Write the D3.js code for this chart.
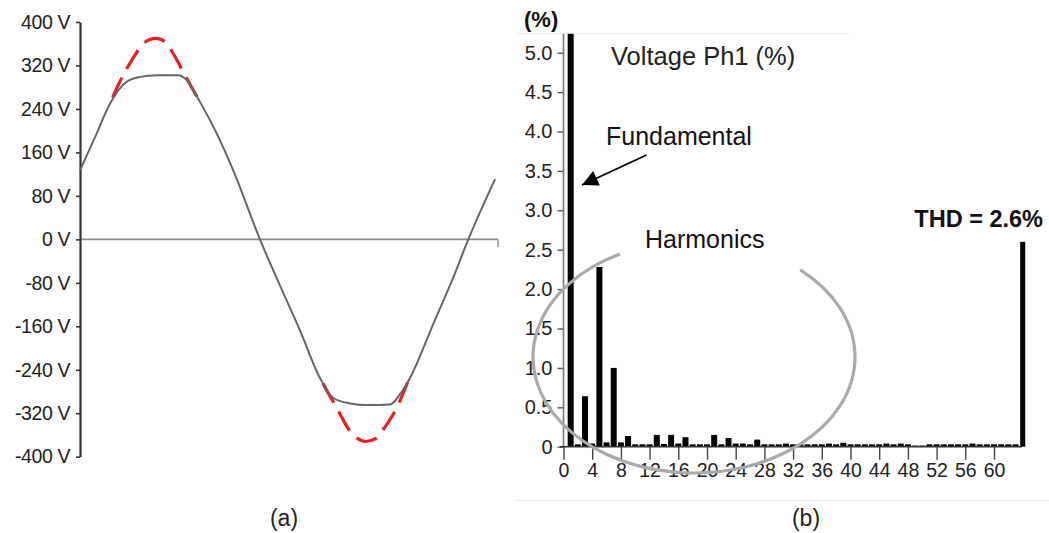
<!DOCTYPE html>
<html>
<head>
<meta charset="utf-8">
<script src="https://cdn.jsdelivr.net/npm/d3@7"></script>
<style>
  html, body { margin: 0; padding: 0; background: #fff; }
  svg { display: block; font-family: "Liberation Sans", Arial, sans-serif; }
</style>
</head>
<body>
<svg id="chart" width="1049" height="533"></svg>
<script>
// ---------------- DATA ----------------
// (a) Voltage waveform: time (ms) and voltage (V)
const waveTime = [0, 0.72, 1.44, 2.23, 2.87, 3.67, 4.70, 5.11, 5.74, 6.54, 7.33, 8.61, 9.73, 10.53, 11.48, 12.12, 12.92, 13.72, 14.83, 15.31, 15.79, 16.90, 17.86, 18.58, 19.86];
const waveVolt = [127, 188, 250, 290, 299, 302, 302, 293, 253, 195, 127, 0, -99, -168, -255, -292, -302, -305, -304, -285, -255, -156, -70, 0, 111];
// ideal (unclipped) peaks, red dashed
const peakPosTime = [1.44, 1.83, 2.15, 2.63, 3.03, 3.64, 4.07, 4.46, 4.94, 5.34, 5.74];
const peakPosVolt = [250, 284, 308, 339, 361, 370, 364, 342, 308, 280, 253];
const peakNegTime = [11.48, 11.88, 12.28, 12.92, 13.67, 14.19, 14.51, 15.15, 15.79];
const peakNegVolt = [-255, -283, -310, -353, -372, -366, -350, -310, -252];
const voltTicks = [400, 320, 240, 160, 80, 0, -80, -160, -240, -320, -400];

// (b) Harmonic spectrum, % of fundamental, index = harmonic order 0..63
const harmonicValues = [0, 100, 0.03, 0.64, 0.04, 2.28, 0.055, 1.0, 0.055, 0.135,
  0.03, 0.03, 0.03, 0.15, 0.035, 0.15, 0.04, 0.12, 0.03, 0.03,
  0.03, 0.15, 0.03, 0.11, 0.04, 0.04, 0.03, 0.09, 0.03, 0.03,
  0.03, 0.04, 0.03, 0.03, 0.03, 0.03, 0.03, 0.04, 0.03, 0.05,
  0.03, 0.03, 0.03, 0.03, 0.03, 0.04, 0.03, 0.04, 0.03, 0.015,
  0.015, 0.03, 0.03, 0.03, 0.03, 0.03, 0.03, 0.04, 0.03, 0.03,
  0.03, 0.03, 0.03, 0.03];
const thdPosition = 64;
const thdValue = 2.6;
const harmTicks = [0, 4, 8, 12, 16, 20, 24, 28, 32, 36, 40, 44, 48, 52, 56, 60];
const pctTicks = [0, 0.5, 1.0, 1.5, 2.0, 2.5, 3.0, 3.5, 4.0, 4.5, 5.0];

// ---------------- DRAW ----------------
const svg = d3.select("#chart");
const FONT = '"Liberation Sans", Arial, sans-serif';

// faint frame lines of panel (b)
svg.append("line").attr("x1", 515).attr("x2", 849).attr("y1", 33.5).attr("y2", 33.5)
  .attr("stroke", "#f1f1f1").attr("stroke-width", 1.5);
svg.append("line").attr("x1", 515).attr("x2", 1049).attr("y1", 500.5).attr("y2", 500.5)
  .attr("stroke", "#eeeeee").attr("stroke-width", 1.5);

// ===== Panel (a) =====
const xA = d3.scaleLinear().domain([0, 20]).range([80, 498]);
const yA = d3.scaleLinear().domain([-400, 400]).range([456.7, 22]);

const gA = svg.append("g");
// zero line
gA.append("line").attr("x1", xA(0)).attr("x2", xA(20)).attr("y1", yA(0)).attr("y2", yA(0))
  .attr("stroke", "#8a8a8a").attr("stroke-width", 1.6);
gA.append("line").attr("x1", xA(20)).attr("x2", xA(20)).attr("y1", yA(0)).attr("y2", yA(0) + 8)
  .attr("stroke", "#8a8a8a").attr("stroke-width", 1.4);

// y axis
const axA = d3.axisLeft(yA).tickValues(voltTicks).tickSize(4).tickSizeOuter(0)
  .tickPadding(6).tickFormat(d => d + " V");
const gAx = gA.append("g").attr("transform", `translate(${xA(0)},0)`).call(axA);
gAx.select(".domain").attr("stroke", "#333").attr("stroke-width", 2.2);
gAx.selectAll(".tick line").attr("stroke", "#333").attr("stroke-width", 1.6);
gAx.selectAll(".tick text").attr("font-family", FONT).attr("font-size", 19.5)
  .attr("fill", "#222").attr("letter-spacing", "-0.4px");

// red dashed ideal peaks (dash centred on the peak)
const lineA = d3.line().x(d => xA(d[0])).y(d => yA(d[1])).curve(d3.curveMonotoneX);
const dash = 22, gap = 10;
[[peakPosTime, peakPosVolt], [peakNegTime, peakNegVolt]].forEach(([t, v]) => {
  const p = gA.append("path").datum(t.map((ti, i) => [ti, v[i]]))
    .attr("d", lineA).attr("fill", "none").attr("stroke", "#ee1c24")
    .attr("stroke-width", 3.2).attr("stroke-dasharray", `${dash},${gap}`);
  const L = p.node().getTotalLength();
  const s = L / 2 - dash / 2;
  const per = dash + gap;
  p.attr("stroke-dashoffset", ((-s) % per + per) % per);
});
// clipped waveform
gA.append("path").datum(waveTime.map((t, i) => [t, waveVolt[i]]))
  .attr("d", lineA).attr("fill", "none").attr("stroke", "#666")
  .attr("stroke-width", 2);

svg.append("text").attr("x", 284).attr("y", 526).attr("text-anchor", "middle")
  .attr("font-family", FONT).attr("font-size", 23).attr("fill", "#222").text("(a)");

// ===== Panel (b) =====
const xB = d3.scaleLinear().domain([0, 60]).range([563.5, 994]);
const yB = d3.scaleLinear().domain([0, 5]).range([446.7, 52.7]);
const yTopVal = 5.24; // visible top of plot
const gB = svg.append("g");

// y axis
const axB = d3.axisLeft(yB).tickValues(pctTicks).tickSize(6).tickSizeOuter(0).tickPadding(5)
  .tickFormat(d => d === 0 ? "0" : d.toFixed(1));
const gBy = gB.append("g").attr("transform", `translate(${xB(0)},0)`).call(axB);
gBy.select(".domain").remove();
gBy.append("line").attr("x1", 0).attr("x2", 0).attr("y1", yB(0)).attr("y2", yB(yTopVal))
  .attr("stroke", "#777").attr("stroke-width", 1.6);
gBy.selectAll(".tick line").attr("stroke", "#555").attr("stroke-width", 1.4);
gBy.selectAll(".tick text").attr("font-family", FONT).attr("font-size", 20).attr("fill", "#222");

// bars
const barW = 6;
gB.append("g").selectAll("rect").data(harmonicValues.map((v, i) => ({ h: i, v })))
  .join("rect")
  .attr("x", d => xB(d.h) - barW / 2)
  .attr("width", barW)
  .attr("y", d => yB(Math.min(d.v, yTopVal)))
  .attr("height", d => yB(0) - yB(Math.min(d.v, yTopVal)))
  .attr("fill", "#000");
gB.append("rect").attr("x", xB(thdPosition) - 2.5).attr("width", 5)
  .attr("y", yB(thdValue)).attr("height", yB(0) - yB(thdValue)).attr("fill", "#000");

// x axis
const axBx = d3.axisBottom(xB).tickValues(harmTicks).tickSize(13).tickSizeOuter(0).tickPadding(3);
const gBx = gB.append("g").attr("transform", `translate(0,${yB(0)})`).call(axBx);
gBx.select(".domain").remove();
gBx.append("line").attr("x1", 560).attr("x2", 1022).attr("y1", 0).attr("y2", 0)
  .attr("stroke", "#333").attr("stroke-width", 1.6);
gBx.selectAll(".tick line").attr("stroke", "#444").attr("stroke-width", 1.4);
gBx.selectAll(".tick text").attr("font-family", FONT).attr("font-size", 19.5).attr("fill", "#222");

// harmonics ellipse (open at top for label)
const cx = 694, cy = 357, rx = 161, ry = 116;
const a1 = -2.05, a2 = -0.85; // gap angles (radians)
const p1 = [cx + rx * Math.cos(a1), cy + ry * Math.sin(a1)];
const p2 = [cx + rx * Math.cos(a2), cy + ry * Math.sin(a2)];
gB.append("path")
  .attr("d", `M${p1[0]},${p1[1]} A${rx},${ry} 0 1 0 ${p2[0]},${p2[1]}`)
  .attr("fill", "none").attr("stroke", "#aaa").attr("stroke-width", 3.2);

// annotations
svg.append("text").attr("x", 524).attr("y", 27).attr("font-family", FONT)
  .attr("font-weight", "bold").attr("font-size", 22).attr("fill", "#111").text("(%)");
svg.append("text").attr("x", 611).attr("y", 65).attr("font-family", FONT)
  .attr("font-size", 25.5).attr("fill", "#222").text("Voltage Ph1 (%)");
svg.append("text").attr("x", 606).attr("y", 145).attr("font-family", FONT)
  .attr("font-size", 25).attr("fill", "#111").text("Fundamental");
svg.append("text").attr("x", 645).attr("y", 248).attr("font-family", FONT)
  .attr("font-size", 25).attr("fill", "#111").text("Harmonics");
svg.append("text").attr("x", 1043).attr("y", 227).attr("text-anchor", "end").attr("font-family", FONT)
  .attr("font-weight", "bold").attr("font-size", 23.5).attr("fill", "#111").text("THD = 2.6%");

// arrow
svg.append("defs").append("marker").attr("id", "ah").attr("viewBox", "0 0 10 10")
  .attr("refX", 10).attr("refY", 5).attr("markerWidth", 20).attr("markerHeight", 16)
  .attr("markerUnits", "userSpaceOnUse").attr("orient", "auto")
  .append("path").attr("d", "M0,0 L10,5 L0,10 Z").attr("fill", "#000");
svg.append("line").attr("x1", 646.5).attr("y1", 155).attr("x2", 582).attr("y2", 185)
  .attr("stroke", "#000").attr("stroke-width", 1.8).attr("marker-end", "url(#ah)");

svg.append("text").attr("x", 806).attr("y", 526).attr("text-anchor", "middle")
  .attr("font-family", FONT).attr("font-size", 23).attr("fill", "#222").text("(b)");
</script>
</body>
</html>
